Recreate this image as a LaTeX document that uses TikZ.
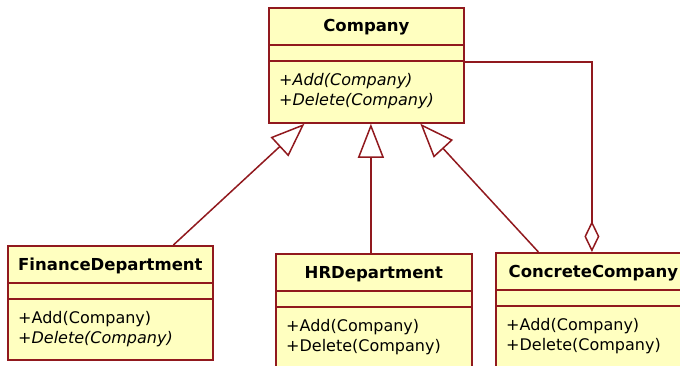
\documentclass[tikz,border=0pt]{standalone}
\usepackage{fontspec}
\setmainfont{DejaVu Sans}
\usetikzlibrary{arrows.meta}
\definecolor{umlline}{RGB}{145,25,30}
\definecolor{umlfill}{RGB}{255,255,192}

\tikzset{
  classbox/.style={draw=umlline, fill=umlfill, line width=1.8pt, inner sep=0pt},
  classrule/.style={draw=umlline, line width=1.5pt},
  classtitle/.style={inner sep=0pt, font=\fontsize{16.5}{20}\selectfont\bfseries},
  classops/.style={inner sep=0pt, align=left, font=\fontsize{16}{20}\selectfont},
  inherit/.style={draw=umlline, line width=1.5pt, -{Triangle[open, length=34pt, width=26pt]}},
  aggregate/.style={draw=umlline, line width=1.5pt, -{Diamond[open, length=31pt, width=15pt]}}
}

\newcommand{\umlclass}[6]{
  \node[classbox, minimum width=#3, minimum height=#4, anchor=north west] (#1) at (#2) {};
  \draw[classrule] ([yshift=-38pt]#1.north west) -- ([yshift=-38pt]#1.north east);
  \draw[classrule] ([yshift=-54pt]#1.north west) -- ([yshift=-54pt]#1.north east);
  \node[classtitle, anchor=base] (#1-title) at ([yshift=-25pt]#1.north) {#5};
  \node[classops, anchor=north west] (#1-ops) at ([xshift=11pt, yshift=-66pt]#1.north west) {#6};
}

\begin{document}
\begin{tikzpicture}[x=1pt, y=1pt]
  \clip (0,0) rectangle (680,-366);
  \fill[white] (0,0) rectangle (680,-366);
  \umlclass{company}{268,-7}{195pt}{115pt}{Company}{\itshape +Add(Company)\\ \itshape +Delete(Company)}
  \umlclass{finance}{7,-245}{205pt}{114pt}{FinanceDepartment}{+Add(Company)\\ \itshape +Delete(Company)}
  \umlclass{hr}{275,-253}{196pt}{125pt}{HRDepartment}{+Add(Company)\\ +Delete(Company)}
  \umlclass{concrete}{495,-252}{195pt}{125pt}{ConcreteCompany}{+Add(Company)\\ +Delete(Company)}

  \draw[inherit] ([xshift=63pt]finance.north) -- ([xshift=-62pt]company.south);
  \draw[inherit] ([xshift=-3pt]hr.north) -- ([xshift=-3pt]hr.north |- company.south);
  \draw[inherit] ([xshift=-55pt]concrete.north) -- ([xshift=54pt]company.south);
  \draw[aggregate] ([yshift=-55pt]company.north east) -| ([xshift=-1.5pt]concrete.north);
\end{tikzpicture}
\end{document}
